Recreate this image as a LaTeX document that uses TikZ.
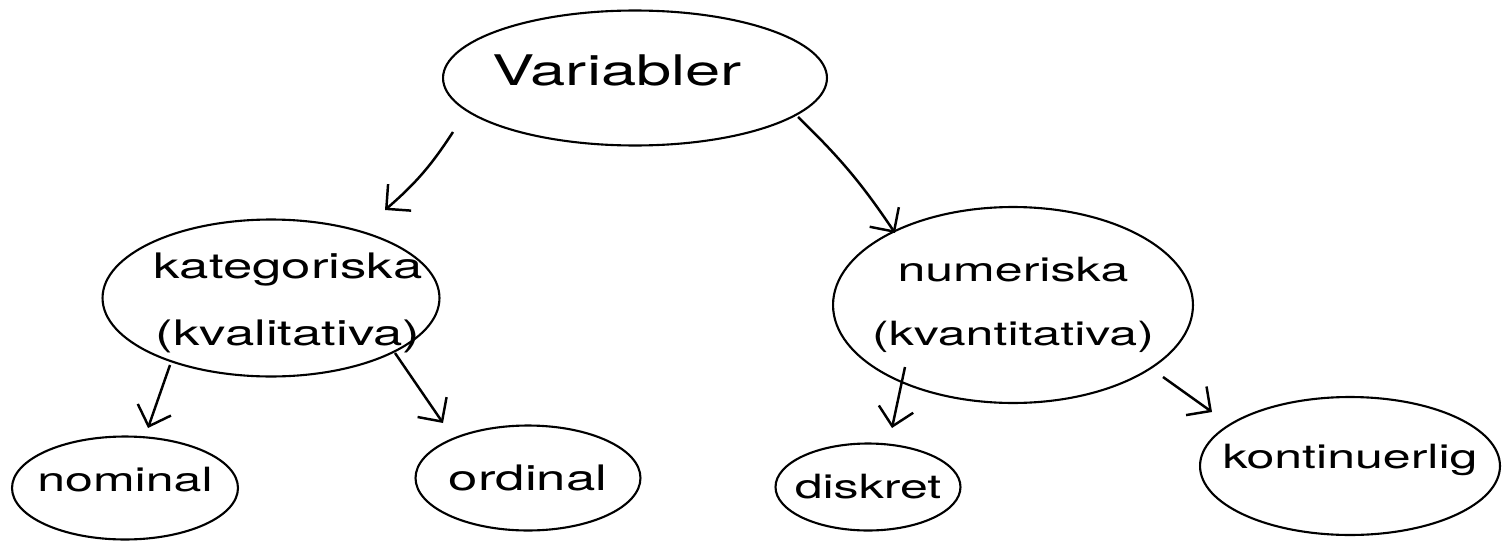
\documentclass[tikz,border=0pt]{standalone}
\usepackage{fontspec}
\newfontfamily\hand[FakeStretch=1.5]{TeX Gyre Heros}
\usetikzlibrary{shapes.geometric,arrows.meta,calc}
\begin{document}
\begin{tikzpicture}[x=0.02cm,y=-0.02cm,
  line width=1.2pt,
  bubble/.style={ellipse,draw,inner sep=0pt},
  lab/.style={font=\hand\fontsize{#1}{1.9\dimexpr#1pt\relax}\selectfont,align=center,inner sep=0pt},
  lab/.default=20,
  arr/.style={line width=1.4pt,-{Straight Barb[length=10pt,width=20pt,line width=1.4pt]}}]
\useasboundingbox (0,0) rectangle (1511,541);

% category tree
\node[bubble,minimum width=7.68cm,minimum height=2.7cm,
      label={[lab=24,xshift=-0.36cm,yshift=0.16cm]center:Variabler}] (var) at (635,78) {};
\node[bubble,minimum width=6.74cm,minimum height=3.14cm,
      label={[lab=20,xshift=0.34cm,yshift=-0.1cm]center:{kategoriska\\(kvalitativa)}}] (kat) at (271,298) {};
\node[bubble,minimum width=7.2cm,minimum height=3.92cm,
      label={[lab=19]center:{numeriska\\(kvantitativa)}}] (num) at (1013,305) {};
\node[bubble,minimum width=4.52cm,minimum height=2.06cm,
      label={[lab=19,yshift=0.16cm]center:nominal}] (nom) at (125,488) {};
\node[bubble,minimum width=4.5cm,minimum height=2.1cm,
      label={[lab=20]center:ordinal}] (ord) at (528,478) {};
\node[bubble,minimum width=3.7cm,minimum height=1.74cm,
      label={[lab=19]center:diskret}] (dis) at (868,487) {};
\node[bubble,minimum width=6cm,minimum height=2.76cm,
      label={[lab=19,yshift=0.12cm]center:kontinuerlig}] (kon) at (1350,466) {};

% connectors
\draw[arr] ($(var.center)+(-182,54)$) to[bend left=8] ($(kat.center)+(114,-88)$);
\draw[arr] ($(var.center)+(163,39)$) to[bend left=6] ($(num.center)+(-118,-72)$);
\draw[arr] ($(kat.center)+(-101,67)$) -- ($(nom.center)+(23,-60)$);
\draw[arr] ($(kat.center)+(124,55)$) -- ($(ord.center)+(-85,-55)$);
\draw[arr] ($(num.center)+(-108,62)$) -- ($(dis.center)+(24,-59)$);
\draw[arr] ($(num.center)+(150,72)$) -- ($(kon.center)+(-138,-54)$);
\end{tikzpicture}
\end{document}
